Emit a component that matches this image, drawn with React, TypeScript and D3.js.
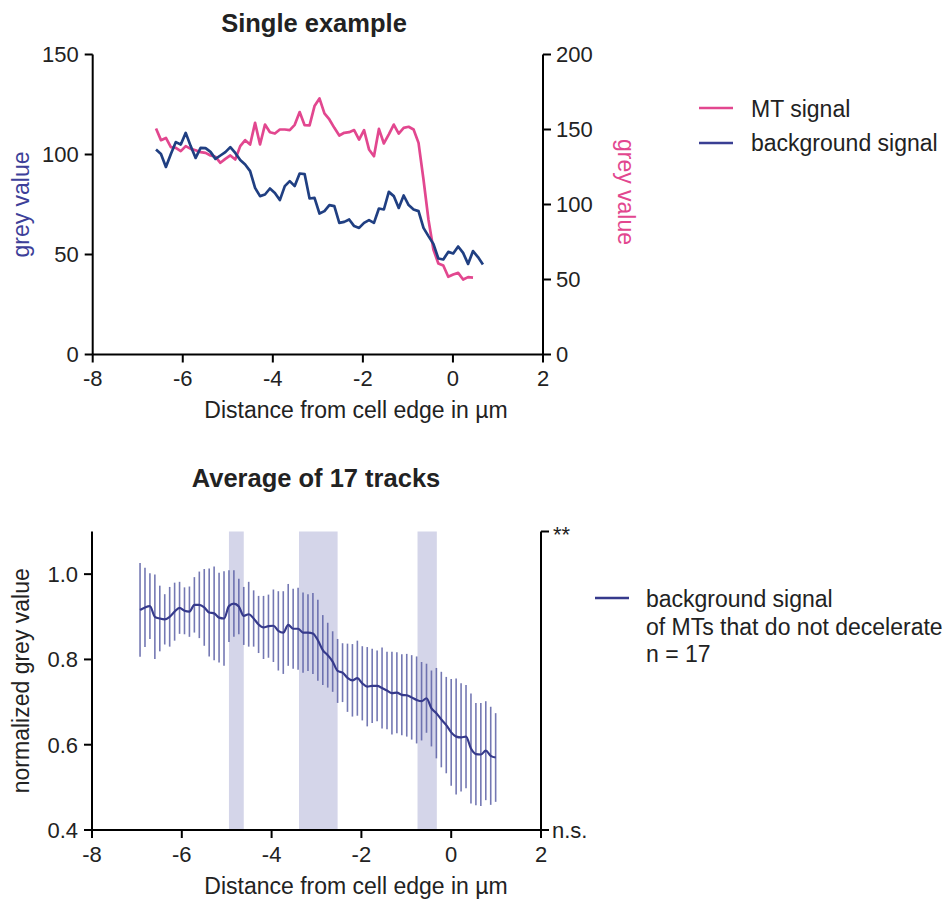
import React from "react";
import * as d3 from "d3";

// ---------- DATA ----------
// Single example: sampling grid (µm) shared by both profiles
const singleStart = -6.594;
const singleStep = 0.11;
const mtSignal = [
  150.7, 142.9, 144.4, 138.2, 137.8, 135.6, 138.9, 137.1, 136.2, 134.9,
  134.4, 132.7, 131.8, 127.8, 130.4, 132.7, 130.0, 138.9, 142.9, 140.0,
  154.4, 140.0, 153.3, 148.2, 147.3, 150.0, 150.0, 149.6, 153.1, 161.6,
  152.9, 152.7, 165.6, 170.7, 160.7, 156.7, 151.1, 146.0, 147.8, 148.2,
  149.6, 143.3, 149.6, 136.7, 132.2, 150.4, 140.7, 146.7, 153.3, 147.3,
  151.1, 151.8, 150.0, 141.1, 116.7, 90.0, 70.0, 60.7, 59.3, 51.8,
  53.3, 54.4, 50.0, 51.6, 51.3,
];
const backgroundSignal = [
  102.5, 100.3, 93.8, 100.3, 106.2, 105.0, 110.8, 104.2, 98.3, 103.3,
  103.2, 101.3, 97.8, 99.5, 101.2, 103.7, 100.8, 97.2, 95.0, 91.7,
  83.3, 79.2, 80.0, 83.0, 80.8, 77.2, 84.2, 86.7, 84.2, 90.5,
  90.2, 78.0, 78.3, 70.5, 71.7, 74.7, 74.2, 65.8, 66.3, 67.5,
  64.2, 63.3, 65.8, 67.2, 65.8, 73.0, 72.5, 81.3, 79.2, 73.3,
  79.5, 74.7, 72.5, 71.7, 63.3, 59.2, 55.3, 48.0, 47.5, 51.3,
  50.5, 54.0, 50.8, 45.3, 51.7, 48.7, 45.0,
];

// Average of 17 tracks
const avgStart = -6.93;
const avgStep = 0.11;
const avgMean = [
  0.916, 0.922, 0.925, 0.900, 0.896, 0.894, 0.900, 0.912, 0.921, 0.914,
  0.912, 0.928, 0.928, 0.922, 0.910, 0.908, 0.898, 0.896, 0.925, 0.931,
  0.924, 0.902, 0.906, 0.896, 0.882, 0.875, 0.878, 0.879, 0.867, 0.863,
  0.881, 0.872, 0.872, 0.863, 0.863, 0.861, 0.845, 0.822, 0.810, 0.795,
  0.773, 0.769, 0.757, 0.751, 0.756, 0.744, 0.736, 0.738, 0.738, 0.733,
  0.727, 0.721, 0.722, 0.717, 0.716, 0.711, 0.705, 0.702, 0.709, 0.685,
  0.674, 0.659, 0.646, 0.629, 0.619, 0.617, 0.619, 0.591, 0.578, 0.577,
  0.586, 0.574, 0.570,
];
const avgSD = [
  0.110, 0.093, 0.077, 0.099, 0.077, 0.059, 0.070, 0.068, 0.061, 0.055,
  0.059, 0.065, 0.078, 0.090, 0.103, 0.110, 0.105, 0.111, 0.084, 0.078,
  0.065, 0.068, 0.076, 0.066, 0.067, 0.074, 0.074, 0.085, 0.093, 0.097,
  0.096, 0.094, 0.096, 0.094, 0.090, 0.095, 0.095, 0.082, 0.076, 0.071,
  0.075, 0.069, 0.080, 0.085, 0.088, 0.087, 0.093, 0.087, 0.083, 0.095,
  0.091, 0.097, 0.095, 0.095, 0.097, 0.099, 0.102, 0.092, 0.081, 0.089,
  0.106, 0.112, 0.113, 0.125, 0.136, 0.127, 0.121, 0.129, 0.120, 0.121,
  0.116, 0.115, 0.104,
];
// significant regions (µm)
const bands = [
  [-4.95, -4.62],
  [-3.39, -2.53],
  [-0.75, -0.32],
];

const xTicks = [-8, -6, -4, -2, 0, 2];
const topLeftTicks = [0, 50, 100, 150];
const topRightTicks = [0, 50, 100, 150, 200];
const bottomTicks = [0.4, 0.6, 0.8, 1.0];

// ---------- STYLE ----------
const FONT = "'Liberation Sans', Arial, Helvetica, sans-serif";
const PINK = "#e2478f";
const BLUE = "#203f82";
const AVG_BLUE = "#363a8c";
const BAR_BLUE = "#5c60a6";
const BAND = "#d4d5e9";
const TXT = "#222";
const LABEL_SIZE = 23;

export default function App() {
  // top chart scales
  const xT = d3.scaleLinear().domain([-8, 2]).range([92.7, 543]);
  const yL = d3.scaleLinear().domain([0, 150]).range([354.5, 54.5]);
  const yR = d3.scaleLinear().domain([0, 200]).range([354.5, 54.5]);

  // bottom chart scales
  const xB = d3.scaleLinear().domain([-8, 2]).range([92, 541]);
  const yB = d3.scaleLinear().domain([0.4, 1.1]).range([830, 531.5]);

  const mtPts = mtSignal.map((v, i) => [singleStart + i * singleStep, v] as [number, number]);
  const bgPts = backgroundSignal.map((v, i) => [singleStart + i * singleStep, v] as [number, number]);
  const avgPts = avgMean.map((v, i) => ({ x: avgStart + i * avgStep, m: v, sd: avgSD[i] }));

  const lineMT = d3.line<[number, number]>().x((d) => xT(d[0])).y((d) => yR(d[1]));
  const lineBG = d3.line<[number, number]>().x((d) => xT(d[0])).y((d) => yL(d[1]));
  const lineAvg = d3
    .line<{ x: number; m: number }>()
    .x((d) => xB(d.x))
    .y((d) => yB(d.m))
    .curve(d3.curveMonotoneX);

  const axisStroke = { stroke: "#000", strokeWidth: 2, fill: "none" } as const;
  const tickFont = { fontFamily: FONT, fontSize: 22, fill: TXT } as const;

  return (
    <svg
      width={948}
      height={903}
      style={{ position: "absolute", left: 0, top: 0, background: "#fff" }}
    >
      <rect x={0} y={0} width={948} height={903} fill="#fff" />

      {/* ===== TOP CHART ===== */}
      <text x={314} y={31.5} textAnchor="middle" fontFamily={FONT} fontSize={25.5} fontWeight="bold" fill={TXT}>
        Single example
      </text>

      {/* lines */}
      <path d={lineMT(mtPts) || ""} fill="none" stroke={PINK} strokeWidth={2.7} strokeLinejoin="round" />
      <path d={lineBG(bgPts) || ""} fill="none" stroke={BLUE} strokeWidth={2.7} strokeLinejoin="round" />

      {/* left axis */}
      <line x1={xT(-8)} x2={xT(-8)} y1={yL(150)} y2={yL(0)} {...axisStroke} />
      {topLeftTicks.map((t) => (
        <g key={"tl" + t}>
          <line x1={xT(-8) - 8} x2={xT(-8)} y1={yL(t)} y2={yL(t)} {...axisStroke} />
          <text x={xT(-8) - 14} y={yL(t)} dy="0.36em" textAnchor="end" {...tickFont}>
            {t}
          </text>
        </g>
      ))}
      {/* right axis */}
      <line x1={xT(2)} x2={xT(2)} y1={yR(200)} y2={yR(0)} {...axisStroke} />
      {topRightTicks.map((t) => (
        <g key={"tr" + t}>
          <line x1={xT(2)} x2={xT(2) + 8} y1={yR(t)} y2={yR(t)} {...axisStroke} />
          <text x={xT(2) + 13} y={yR(t)} dy="0.36em" textAnchor="start" {...tickFont}>
            {t}
          </text>
        </g>
      ))}
      {/* bottom axis */}
      <line x1={xT(-8)} x2={xT(2)} y1={yL(0)} y2={yL(0)} {...axisStroke} />
      {xTicks.map((t) => (
        <g key={"tx" + t}>
          <line x1={xT(t)} x2={xT(t)} y1={yL(0)} y2={yL(0) + 8} {...axisStroke} />
          <text x={xT(t)} y={yL(0) + 24} dy="0.36em" textAnchor="middle" {...tickFont}>
            {t}
          </text>
        </g>
      ))}
      <text x={356} y={418} textAnchor="middle" fontFamily={FONT} fontSize={LABEL_SIZE} fill={TXT}>
        Distance from cell edge in µm
      </text>
      <text
        transform={`translate(29,${yL(75)}) rotate(-90)`}
        textAnchor="middle"
        fontFamily={FONT}
        fontSize={LABEL_SIZE}
        fill="#3d3f99"
      >
        grey value
      </text>
      <text
        transform={`translate(618,192) rotate(90)`}
        textAnchor="middle"
        fontFamily={FONT}
        fontSize={LABEL_SIZE}
        fill={PINK}
      >
        grey value
      </text>

      {/* top legend */}
      <line x1={699} x2={733} y1={108} y2={108} stroke={PINK} strokeWidth={2.7} />
      <text x={751} y={116.5} fontFamily={FONT} fontSize={LABEL_SIZE} fill={TXT}>
        MT signal
      </text>
      <line x1={699} x2={733} y1={143} y2={143} stroke="#3a3f93" strokeWidth={2.7} />
      <text x={751} y={150.5} fontFamily={FONT} fontSize={LABEL_SIZE} fill={TXT}>
        background signal
      </text>

      {/* ===== BOTTOM CHART ===== */}
      <text x={316} y={486.5} textAnchor="middle" fontFamily={FONT} fontSize={25.5} fontWeight="bold" fill={TXT}>
        Average of 17 tracks
      </text>

      {bands.map((b, i) => (
        <rect
          key={"band" + i}
          x={xB(b[0])}
          y={yB(1.1)}
          width={xB(b[1]) - xB(b[0])}
          height={yB(0.4) - yB(1.1)}
          fill={BAND}
        />
      ))}

      {avgPts.map((d, i) => (
        <line
          key={"eb" + i}
          x1={xB(d.x)}
          x2={xB(d.x)}
          y1={yB(d.m + d.sd)}
          y2={yB(d.m - d.sd)}
          stroke={BAR_BLUE}
          strokeWidth={1.6}
          strokeOpacity={0.85}
        />
      ))}
      <path d={lineAvg(avgPts) || ""} fill="none" stroke={AVG_BLUE} strokeWidth={2.2} />

      {/* left axis */}
      <line x1={xB(-8)} x2={xB(-8)} y1={yB(1.1)} y2={yB(0.4)} {...axisStroke} />
      {bottomTicks.map((t) => (
        <g key={"bl" + t}>
          <line x1={xB(-8) - 8} x2={xB(-8)} y1={yB(t)} y2={yB(t)} {...axisStroke} />
          <text x={xB(-8) - 14} y={yB(t)} dy="0.36em" textAnchor="end" {...tickFont}>
            {d3.format(".1f")(t)}
          </text>
        </g>
      ))}
      {/* right significance axis */}
      <line x1={xB(2)} x2={xB(2)} y1={yB(1.1)} y2={yB(0.4)} {...axisStroke} />
      <line x1={xB(2)} x2={xB(2) + 8} y1={yB(1.1)} y2={yB(1.1)} {...axisStroke} />
      <line x1={xB(2)} x2={xB(2) + 8} y1={yB(0.4)} y2={yB(0.4)} {...axisStroke} />
      <text x={xB(2) + 12} y={yB(1.1) + 10} textAnchor="start" {...tickFont}>
        **
      </text>
      <text x={xB(2) + 11} y={yB(0.4)} dy="0.36em" textAnchor="start" {...tickFont}>
        n.s.
      </text>
      {/* bottom axis */}
      <line x1={xB(-8)} x2={xB(2)} y1={yB(0.4)} y2={yB(0.4)} {...axisStroke} />
      {xTicks.map((t) => (
        <g key={"bx" + t}>
          <line x1={xB(t)} x2={xB(t)} y1={yB(0.4)} y2={yB(0.4) + 8} {...axisStroke} />
          <text x={xB(t)} y={yB(0.4) + 24} dy="0.36em" textAnchor="middle" {...tickFont}>
            {t}
          </text>
        </g>
      ))}
      <text x={356} y={894} textAnchor="middle" fontFamily={FONT} fontSize={LABEL_SIZE} fill={TXT}>
        Distance from cell edge in µm
      </text>
      <text
        transform={`translate(29,${yB(0.75)}) rotate(-90)`}
        textAnchor="middle"
        fontFamily={FONT}
        fontSize={LABEL_SIZE}
        fill={TXT}
      >
        normalized grey value
      </text>

      {/* bottom legend */}
      <line x1={595} x2={629} y1={598} y2={598} stroke={AVG_BLUE} strokeWidth={2.5} />
      <text fontFamily={FONT} fontSize={LABEL_SIZE} fill={TXT}>
        <tspan x={646} y={607}>background signal</tspan>
        <tspan x={646} y={635}>of MTs that do not decelerate</tspan>
        <tspan x={646} y={662}>n = 17</tspan>
      </text>
    </svg>
  );
}
